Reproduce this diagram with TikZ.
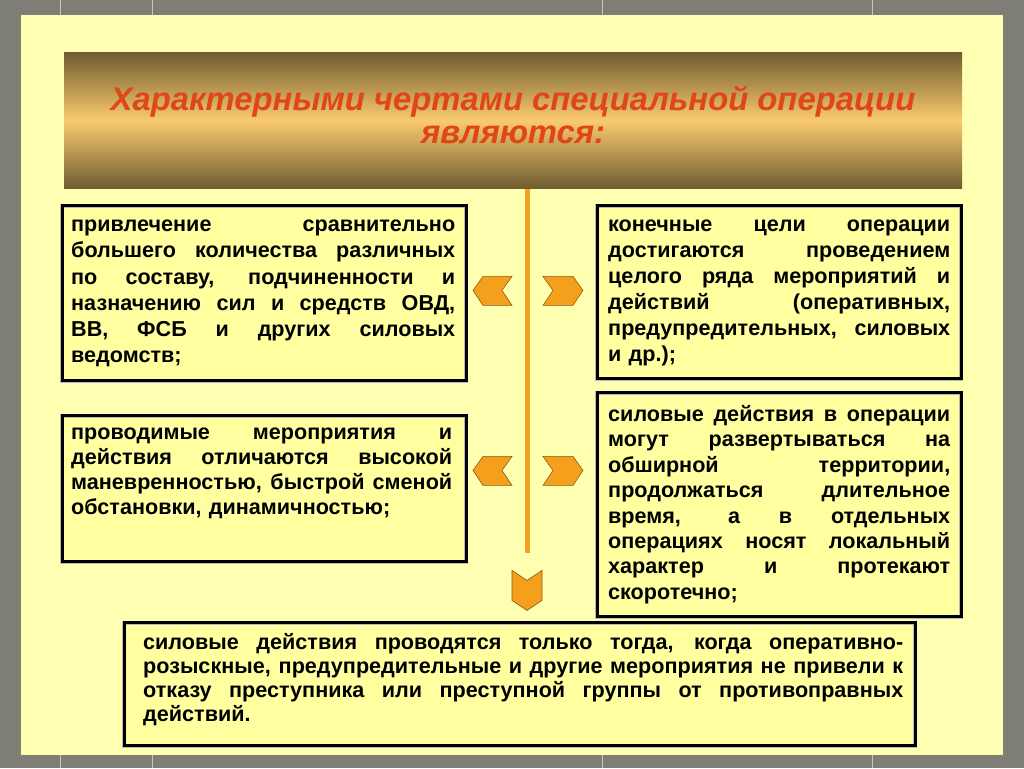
\documentclass[tikz,border=0pt]{standalone}
\usepackage{fontspec}
\setmainfont{Liberation Sans}
\usepackage{tikz}
\usetikzlibrary{shapes,positioning}

\definecolor{viewgray}{RGB}{126,126,118}
\definecolor{slide}{RGB}{255,255,178}
\definecolor{boxfill}{RGB}{255,255,160}
\definecolor{titledark}{RGB}{112,92,48}
\definecolor{titlelight}{RGB}{250,202,112}
\definecolor{titlered}{RGB}{224,70,22}
\definecolor{trunk}{RGB}{242,162,32}
\definecolor{chevfill}{RGB}{245,160,28}
\definecolor{chevline}{RGB}{140,90,20}

% one justified line
\newcommand{\jl}[1]{\makebox[\hsize][s]{\spaceskip=.28em plus 1fil\xspaceskip=\spaceskip #1}\\}

\begin{document}
\begin{tikzpicture}
[x=1pt,y=-1pt]
\tikzset{
	frame/.style = {draw=gray!55, double=black, double distance=2.6pt, line width=0.7pt, fill=boxfill, inner sep=0, anchor=north west},
	txt/.style = {anchor=base west, inner sep=0, align=left, font=\bfseries\fontsize{21.6}{#1}\selectfont},
	chev/.style = {fill=chevfill, draw=chevline, line width=0.6pt}
}

% viewer and slide
\fill[viewgray] (0,0) rectangle (1024,768);
\foreach \x in {60,152,602,872}
	\draw[gray!45, line width=0.8pt] (\x,0) -- (\x,768);
\fill[slide] (21,15) rectangle (1003,755);

\node(title) [top color=titledark, bottom color=titledark, middle color=titlelight,
	minimum width=898, minimum height=136, inner sep=0, text=titlered, align=center,
	font=\bfseries\itshape\fontsize{32.8}{33}\selectfont] at (513,120)
	{\parbox{880pt}{\centering Характерными чертами специальной операции\\являются:\par\vspace{12pt}}};

\coordinate (trunk-end) at (527,553);
\draw[trunk, line width=5pt] (title.south -| trunk-end) -- (trunk-end);

\node(box1) [frame, minimum width=404, minimum height=175] at (62,205) {};
\node(box2) [frame, minimum width=364, minimum height=173] at (597,205) {};
\node(box3) [frame, minimum width=404, minimum height=146] at (62,415) {};
\node(box4) [frame, minimum width=364, minimum height=224] at (597,392) {};
\node(box5) [frame, minimum width=791, minimum height=123] at (124,622) {};

\node(txt1) [txt=26.3, text width=384] at (71,231) {%
	\jl{привлечение сравнительно}
	\jl{большего количества различных}
	\jl{по составу, подчиненности и}
	\jl{назначению сил и средств ОВД,}
	\jl{ВВ, ФСБ и других силовых}
	ведомств;};
\node(txt2) [txt=26.1, text width=342] at (608,231) {%
	\jl{конечные цели операции}
	\jl{достигаются проведением}
	\jl{целого ряда мероприятий и}
	\jl{действий (оперативных,}
	\jl{предупредительных, силовых}
	и др.);};
\node(txt3) [txt=25, text width=381] at (71,439) {%
	\jl{проводимые мероприятия и}
	\jl{действия отличаются высокой}
	\jl{маневренностью, быстрой сменой}
	обстановки, динамичностью;};
\node(txt4) [txt=25.4, text width=342] at (608,421) {%
	\jl{силовые действия в операции}
	\jl{могут развертываться на}
	\jl{обширной территории,}
	\jl{продолжаться длительное}
	\jl{время, а в отдельных}
	\jl{операциях носят локальный}
	\jl{характер и протекают}
	скоротечно;};
\node(txt5) [txt=24, text width=760] at (143,649) {%
	\jl{силовые действия проводятся только тогда, когда оперативно-}
	\jl{розыскные, предупредительные и другие мероприятия не привели к}
	\jl{отказу преступника или преступной группы от противоправных}
	действий.};

% chevrons
\foreach \dy in {0,180}{
	\filldraw[chev] (473,290+\dy) -- (483,276+\dy) -- (512,276+\dy) -- (502,290+\dy) -- (512,305+\dy) -- (483,305+\dy) -- cycle;
	\filldraw[chev] (543,276+\dy) -- (573,276+\dy) -- (583,290+\dy) -- (573,305+\dy) -- (543,305+\dy) -- (553,290+\dy) -- cycle;
}
\filldraw[chev] (512,570) -- (527,580) -- (542,570) -- (542,600) -- (527,610) -- (512,600) -- cycle;

\end{tikzpicture}
\end{document}
